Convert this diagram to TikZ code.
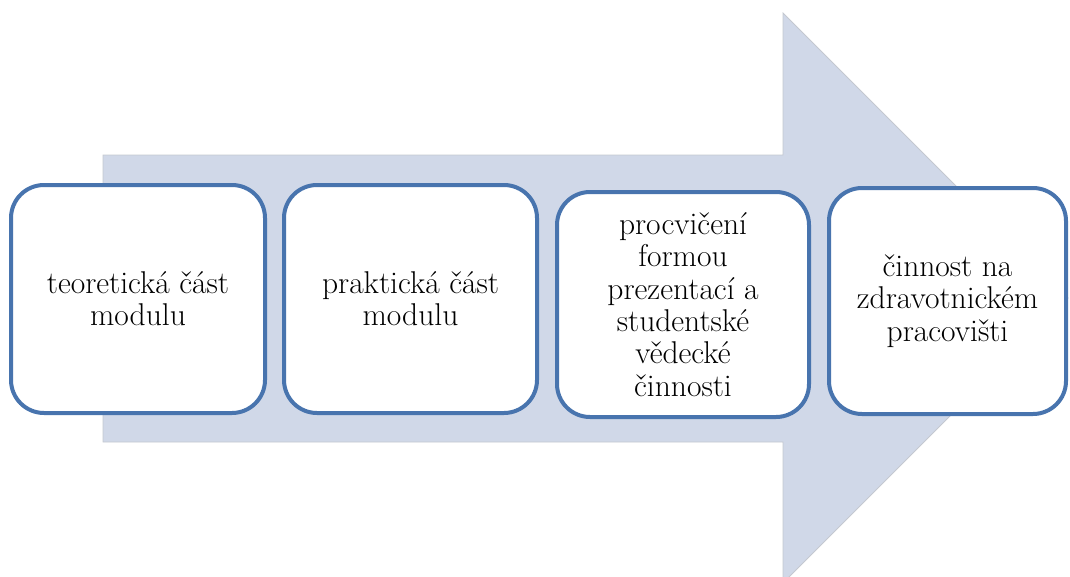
\documentclass[tikz,border=0pt]{standalone}
\usepackage{fontspec}
\newfontfamily\stagefont{Latin Modern Roman}
\definecolor{arrowfill}{RGB}{208,216,232}
\definecolor{arrowedge}{RGB}{196,200,208}
\definecolor{boxedge}{RGB}{72,116,174}
\begin{document}
\begin{tikzpicture}[x=1pt,y=-1pt,
  stage/.style={draw=boxedge, line width=4pt, fill=white, rounded corners=33pt,
    align=center, inner sep=0pt, font=\stagefont\fontsize{31.5}{32.3}\selectfont},
]
\useasboundingbox (0,0) rectangle (1070,576);
\begin{scope}
  \clip (0,0) rectangle (1070,576);
  % large block arrow behind the stages
  \filldraw[fill=arrowfill, draw=arrowedge, line width=0.8pt]
    (103,155) -- (783,155) -- (783,13) -- (1068,298) -- (783,583)
    -- (783,442) -- (103,442) -- cycle;
\end{scope}
% stages
\node[stage, minimum width=254pt, minimum height=228pt] (s1) at (138,299)
  {teoretická část\\modulu};
\node[stage, minimum width=253pt, minimum height=228pt] (s2) at (410.5,299)
  {praktická část\\modulu};
\node[stage, minimum width=252pt, minimum height=225pt] (s3) at (683,304.5)
  {procvičení\\formou\\prezentací a\\studentské\\vědecké\\činnosti};
\node[stage, minimum width=237pt, minimum height=226pt] (s4) at (947.5,301)
  {činnost na\\zdravotnickém\\pracovišti};
\end{tikzpicture}
\end{document}
